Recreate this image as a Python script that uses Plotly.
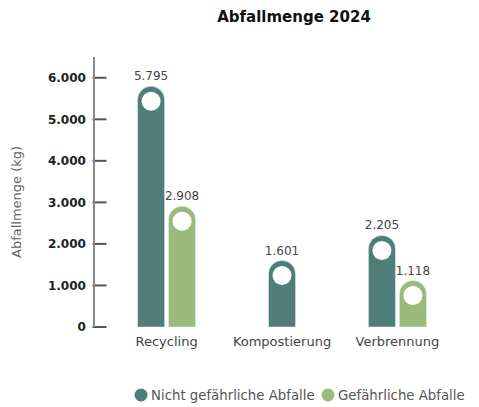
import plotly.graph_objects as go

categories = ["Recycling", "Kompostierung", "Verbrennung"]
series_names = ["Nicht gefährliche Abfalle", "Gefährliche Abfalle"]
nicht_gefaehrlich = [5795, 1601, 2205]
gefaehrlich = [2908, None, 1118]
y_ticks = [0, 1000, 2000, 3000, 4000, 5000, 6000]

DARK = "#4f7e78"
LIGHT = "#9aba7b"
FONT = "DejaVu Sans"

# the page body has an 8px margin, so the figure is 8px smaller and all pixel positions shift by 8
OFF = 8
W, H = 479 - OFF, 407 - OFF
ML, MR, MT = 95 - OFF, 10, 57 - OFF
plot_h = 270
MB = H - MT - plot_h
plot_w = W - ML - MR
YMAX = 6500
XR = [-0.62, 2.62]
unit_px = plot_w / (XR[1] - XR[0])
bar_w = 27 / unit_px
gap = 4 / unit_px
data_per_px = YMAX / plot_h
circle_drop = 15 * data_per_px

idx = list(range(len(categories)))

def positions(i, which):
    has_pair = gefaehrlich[i] is not None and nicht_gefaehrlich[i] is not None
    if not has_pair:
        return i
    off = (bar_w + gap) / 2
    return i - off if which == 0 else i + off

x_dark = [positions(i, 0) for i in idx]
x_light = [positions(i, 1) for i in idx]

fig = go.Figure()
fig.add_trace(go.Bar(
    x=x_dark, y=nicht_gefaehrlich, width=bar_w, marker=dict(color=DARK, cornerradius="50%"),
    texttemplate="%{y:,d}", textposition="outside", constraintext="none",
    textfont=dict(family=FONT, size=12, color="#444"), cliponaxis=False,
    name=series_names[0], showlegend=False, hoverinfo="skip"))
lx = [x for x, v in zip(x_light, gefaehrlich) if v is not None]
ly = [v for v in gefaehrlich if v is not None]
fig.add_trace(go.Bar(
    x=lx, y=ly, width=bar_w, marker=dict(color=LIGHT, cornerradius="50%"),
    texttemplate="%{y:,d}", textposition="outside", constraintext="none",
    textfont=dict(family=FONT, size=12, color="#444"), cliponaxis=False,
    name=series_names[1], showlegend=False, hoverinfo="skip"))

# white holes near bar tops
hx = x_dark + lx
hy = [v - circle_drop for v in nicht_gefaehrlich] + [v - circle_drop for v in ly]
fig.add_trace(go.Scatter(x=hx, y=hy, mode="markers",
                         marker=dict(symbol="circle", size=19, color="white"),
                         showlegend=False, hoverinfo="skip"))

# y-axis tick marks (short horizontal dashes just right of the axis line)
tick_x = XR[0] + 4.5 / unit_px
fig.add_trace(go.Scatter(x=[tick_x] * len(y_ticks), y=y_ticks, mode="markers", cliponaxis=False,
                         marker=dict(symbol="line-ew", size=10, line=dict(color="#555", width=2)),
                         showlegend=False, hoverinfo="skip"))

# legend drawn with circle shapes + text annotations (tight spacing)
leg_y = -(395 - OFF - (MT + plot_h)) / plot_h
shapes = []
annotations = []
for cx_px, name, col in zip([141 - OFF, 328 - OFF], series_names, [DARK, LIGHT]):
    xp = (cx_px - ML) / plot_w
    shapes.append(dict(type="circle", xref="paper", yref="paper",
                       xsizemode="pixel", ysizemode="pixel",
                       xanchor=xp, yanchor=leg_y, x0=-6.5, x1=6.5, y0=-6.5, y1=6.5,
                       fillcolor=col, line=dict(width=0)))
    annotations.append(dict(text=name, xref="paper", yref="paper",
                            x=(cx_px + 8 - ML) / plot_w, y=leg_y,
                            xanchor="left", yanchor="middle", showarrow=False,
                            font=dict(family=FONT, size=13.3, color="#555")))

annotations.append(dict(text="Abfallmenge (kg)", textangle=-90, xref="paper", yref="paper",
                        x=(17 - OFF - ML) / plot_w, y=(MT + plot_h - (202 - OFF)) / plot_h,
                        xanchor="center", yanchor="middle", showarrow=False,
                        font=dict(family=FONT, size=13, color="#666")))

fig.update_layout(
    width=W, height=H,
    margin=dict(l=ML, r=MR, t=MT, b=MB, autoexpand=False),
    paper_bgcolor="white", plot_bgcolor="white",
    separators=",.",
    showlegend=False,
    font=dict(family=FONT, size=12, color="#444"),
    title=dict(text="<b>Abfallmenge 2024</b>", x=(294 - OFF) / W, xref="container", xanchor="center",
               y=1 - (17 - OFF) / H, yref="container", yanchor="middle",
               font=dict(family=FONT, size=15, color="#111")),
    xaxis=dict(range=XR, tickvals=idx, ticktext=categories, showline=False, showgrid=False,
               zeroline=False, ticks="", ticklabelstandoff=5,
               tickfont=dict(family=FONT, size=13, color="#444")),
    yaxis=dict(range=[0, YMAX], tickvals=y_ticks, tickformat=",d", showgrid=False, zeroline=False,
               showline=True, linecolor="#8a8a8a", linewidth=1.5,
               ticks="", ticklabelstandoff=5,
               tickfont=dict(family=FONT, size=12, color="#222", weight="bold")),
    shapes=shapes,
    annotations=annotations,
)

fig.write_html("out.html")
